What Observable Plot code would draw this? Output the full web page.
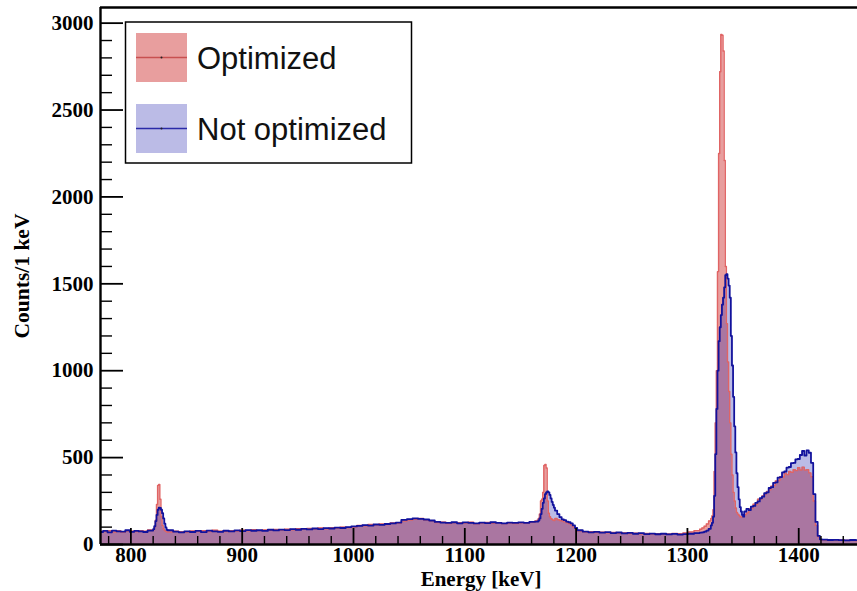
<!DOCTYPE html>
<html><head><meta charset="utf-8">
<script src="https://cdn.jsdelivr.net/npm/d3@7"></script>
<script src="https://cdn.jsdelivr.net/npm/@observablehq/plot@0.6"></script>
<style>html,body{margin:0;padding:0;background:#fff;} svg{display:block;}</style>
</head><body><div id="chart"></div>
<script>
// Histogram binning: [low edge, high edge, bin width] in keV
const binSegments = [
  [771, 819, 4], [819, 833, 1], [833, 1163, 5], [1163, 1165, 2], [1165, 1181, 1],
  [1181, 1201, 2], [1201, 1311, 5], [1311, 1321, 2], [1321, 1351, 1], [1351, 1421, 2], [1421, 1456, 5]
];
const seriesNames = ["Optimized", "Not optimized"];
// Counts per bin, series "Optimized"
const countsOptimized = [
  75, 74, 79, 72, 80, 70, 78, 77, 74, 79, 76, 84,
  80, 85, 100, 140, 230, 340, 345, 260, 160, 110, 90, 80, 76, 72,
  72, 76, 73, 71, 78, 74, 79, 75, 82, 77, 74, 80, 78, 83, 79, 85, 80, 84, 82, 87,
  83, 88, 85, 91, 87, 92, 89, 95, 91, 97, 94, 100, 97, 101, 110, 108, 115, 112, 118, 115,
  124, 122, 135, 140, 145, 150, 141, 136, 127, 129, 121, 125, 126, 123, 128, 119, 124, 127, 122, 126,
  120, 124, 121, 125, 123, 128,
  135,
  140, 150, 175, 250, 260, 300, 455, 460, 440, 250, 180, 160, 150, 145, 140, 138,
  150, 142, 138, 135, 130, 125, 120, 112, 100, 90,
  78, 72, 73, 69, 71, 67, 69, 65, 67, 63, 65, 61, 64, 60, 62, 59, 61, 64, 62, 66, 72, 80,
  88, 95, 105, 118, 135,
  150, 165, 200, 420, 700, 1000, 1570, 2250, 2720, 2935, 2930, 2840, 2210, 1600, 1270,
  1050, 880, 700, 520, 400, 300, 250, 210, 185, 175, 168, 160, 158, 160, 165,
  172, 182, 205, 208, 232, 230, 260, 262, 280, 290, 305, 315, 335, 340, 365, 368, 390, 388,
  410, 402, 420, 415, 430, 425, 442, 428, 445, 428, 430, 412, 390, 250, 110, 45, 28,
  26, 27, 25, 26, 24, 25, 23
];
// Counts per bin, series "Not optimized"
const countsNotOptimized = [
  72, 78, 70, 80, 76, 74, 82, 73, 78, 75, 72, 80,
  80, 88, 105, 135, 170, 200, 212, 210, 200, 180, 150, 120, 98, 85,
  82, 74, 70, 76, 72, 78, 71, 80, 76, 73, 79, 75, 81, 77, 83, 79, 82, 78, 85, 81,
  86, 83, 88, 85, 90, 87, 92, 89, 94, 92, 97, 95, 100, 104, 107, 112, 109, 115, 113, 118,
  121, 126, 142, 146, 150, 147, 144, 138, 130, 126, 124, 128, 122, 127, 125, 121, 126, 123, 128, 124,
  122, 126, 124, 127, 125, 130,
  132,
  132, 138, 150, 175, 205, 240, 265, 290, 300, 305, 300, 285, 265, 245, 228, 212,
  195, 175, 158, 145, 140, 132, 128, 122, 110, 95,
  82, 74, 70, 73, 68, 71, 66, 69, 64, 67, 62, 65, 60, 63, 59, 62, 58, 61, 57, 60, 62, 66,
  68, 70, 74, 80, 90,
  110, 125, 160, 280, 520, 780, 1000, 1170, 1250, 1320, 1380, 1420, 1480, 1550, 1555,
  1530, 1490, 1420, 1200, 1030, 850, 680, 530, 410, 330, 260, 215, 190, 170, 160,
  190, 205, 198, 218, 222, 240, 248, 266, 275, 295, 300, 325, 330, 355, 358, 385, 388, 415,
  420, 442, 446, 468, 470, 490, 492, 515, 538, 512, 542, 528, 470, 290, 130, 50, 30,
  28, 26, 27, 25, 24, 26, 25
];
const xTickLabels = [800, 900, 1000, 1100, 1200, 1300, 1400];
const yTickLabels = [0, 500, 1000, 1500, 2000, 2500, 3000];
const xMinorTicks = [780, 820, 840, 860, 880, 920, 940, 960, 980, 1020, 1040, 1060, 1080, 1120, 1140, 1160, 1180,
  1220, 1240, 1260, 1280, 1320, 1340, 1360, 1380, 1420, 1440];
const yMinorTicks = [100, 200, 300, 400, 600, 700, 800, 900, 1100, 1200, 1300, 1400, 1600, 1700, 1800, 1900,
  2100, 2200, 2300, 2400, 2600, 2700, 2800, 2900];
const xTitle = "Energy [keV]";
const yTitle = "Counts/1 keV";
const xDomain = [772.7, 1452.8];
const yDomain = [0, 3090];

const lowEdges = [];
for (const [a, b, w] of binSegments) for (let e = a; e < b; e += w) lowEdges.push(e);
const lastEdge = binSegments[binSegments.length - 1][1];
if (lowEdges.length !== countsOptimized.length || lowEdges.length !== countsNotOptimized.length) {
  throw new Error("length mismatch " + lowEdges.length + " " + countsOptimized.length + " " + countsNotOptimized.length);
}
function stepPoints(counts) {
  const pts = lowEdges.map((e, i) => ({x: e, y: counts[i]}));
  pts.push({x: lastEdge, y: counts[counts.length - 1]});
  return pts;
}
const optPts = stepPoints(countsOptimized);
const notPts = stepPoints(countsNotOptimized);

const W = 857, H = 591, mL = 100, mR = 0, mT = 7, mB = 47;
const innerW = W - mL - mR, innerH = H - mT - mB;
const serif = "'Liberation Serif', 'Times New Roman', serif";
const sans = "'Liberation Sans', Arial, Helvetica, sans-serif";
const redFill = "rgb(200,20,20)", redOp = 0.41;
const blueFill = "rgb(20,20,170)", blueOp = 0.29;
const redLine = "#e06464", blueLine = "#12129c";
const fmt = d => String(d);

const plot = Plot.plot({
  width: W, height: H, marginLeft: mL, marginRight: mR, marginTop: mT, marginBottom: mB,
  style: {background: "white", fontFamily: serif, color: "black"},
  x: {domain: xDomain},
  y: {domain: yDomain},
  marks: [
    Plot.areaY(optPts, {x: "x", y: "y", curve: "step-after", fill: redFill, fillOpacity: redOp, clip: true}),
    Plot.areaY(notPts, {x: "x", y: "y", curve: "step-after", fill: blueFill, fillOpacity: blueOp, clip: true}),
    Plot.lineY(optPts, {x: "x", y: "y", curve: "step-after", stroke: redLine, strokeWidth: 1.4, clip: true}),
    Plot.lineY(notPts, {x: "x", y: "y", curve: "step-after", stroke: blueLine, strokeWidth: 1.8, clip: true}),
    Plot.tickX(xMinorTicks, {x: d => d, insetTop: innerH - 8, stroke: "black", strokeWidth: 1.4}),
    Plot.tickX(xTickLabels, {x: d => d, insetTop: innerH - 16, stroke: "black", strokeWidth: 1.8}),
    Plot.tickY(yMinorTicks, {y: d => d, insetRight: innerW - 12, stroke: "black", strokeWidth: 1.4}),
    Plot.tickY(yTickLabels, {y: d => d, insetRight: innerW - 23, stroke: "black", strokeWidth: 1.8}),
    Plot.ruleY([yDomain[0]], {stroke: "black", strokeWidth: 2.4}),
    Plot.ruleY([yDomain[1]], {stroke: "black", strokeWidth: 2.6}),
    Plot.ruleX([xDomain[0]], {stroke: "black", strokeWidth: 2.4}),
    Plot.axisX(xTickLabels, {tickSize: 0, tickPadding: 3, tickFormat: fmt, fontSize: 21, fontWeight: "bold", fontFamily: serif, label: null}),
    Plot.axisY(yTickLabels, {tickSize: 0, tickPadding: 7, tickFormat: fmt, fontSize: 21, fontWeight: "bold", fontFamily: serif, label: null}),
    Plot.text([xTitle], {frameAnchor: "bottom", dx: 2, dy: 35, textAnchor: "middle", lineAnchor: "middle", fontSize: 21, fontWeight: "bold", fontFamily: serif, fill: "black"}),
    Plot.text([yTitle], {frameAnchor: "left", dx: -78, dy: 0, rotate: -90, textAnchor: "middle", lineAnchor: "middle", fontSize: 21.5, fontWeight: "bold", fontFamily: serif, fill: "black"})
  ]
});

// Legend (ROOT TLegend style)
const svg = d3.select(plot);
const lg = svg.append("g");
lg.append("rect").attr("x", 125.5).attr("y", 22).attr("width", 286).attr("height", 141)
  .attr("fill", "white").attr("stroke", "black").attr("stroke-width", 1.5);
const items = [
  {name: seriesNames[0], fill: redFill, op: redOp, line: "#c85050", y: 33},
  {name: seriesNames[1], fill: blueFill, op: blueOp, line: "#2a2aa8", y: 104}
];
for (const it of items) {
  lg.append("rect").attr("x", 136).attr("y", it.y).attr("width", 51).attr("height", 49)
    .attr("fill", it.fill).attr("fill-opacity", it.op);
  lg.append("line").attr("x1", 136).attr("x2", 187).attr("y1", it.y + 24.5).attr("y2", it.y + 24.5)
    .attr("stroke", it.line).attr("stroke-width", 1.6);
  lg.append("circle").attr("cx", 161.5).attr("cy", it.y + 24.5).attr("r", 1).attr("fill", "#222");
  lg.append("text").attr("x", 197).attr("y", it.y + 24.5).attr("dy", "0.36em")
    .attr("text-anchor", "start")
    .attr("font-family", sans).attr("font-size", 31).attr("fill", "#111").text(it.name);
}
document.getElementById("chart").appendChild(plot);
</script>
</body></html>
